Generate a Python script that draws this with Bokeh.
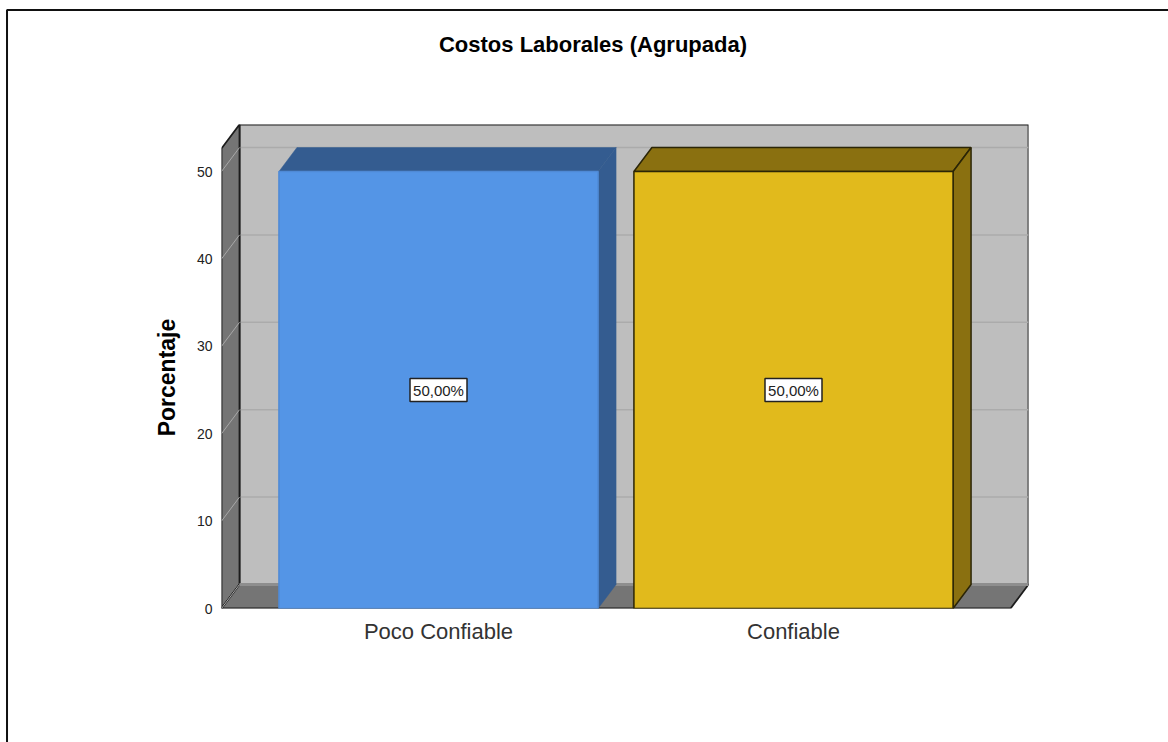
from math import pi
from bokeh.plotting import figure
from bokeh.models import FixedTicker, ColumnDataSource
from bokeh.core.properties import value
from bokeh.embed import file_html
from bokeh.resources import INLINE

title = "Costos Laborales (Agrupada)"
y_label = "Porcentaje"
categories = ["Poco Confiable", "Confiable"]
values = [50.0, 50.0]
labels = ["50,00%", "50,00%"]
y_ticks = [0, 10, 20, 30, 40, 50]
front_colors = ["#5495E6", "#E1BA1C"]
side_colors = ["#345C90", "#8A7010"]
edge_colors = ["#4F8AD6", "#2B2506"]

BAR_W = 0.899
DX = 0.0507
DY = 2.746
X0 = -0.6113
X1 = 1.6113
YMAX = 52.634
FONT = "Liberation Sans"

p = figure(width=1168, height=742, output_backend="svg", toolbar_location=None,
           x_range=(X0, X1 + DX), y_range=(0, YMAX + DY),
           min_border_left=221, min_border_right=1168 - 1028, min_border_top=124, min_border_bottom=742 - 608,
           background_fill_color=None, border_fill_color="white", outline_line_color=None,
           title=None, margin=(0, 0, 0, 0))
p.grid.visible = False


def data_x(px):
    return (px - 438) / 355


def data_y(px):
    return (608 - px) / 8.74


# Axes
p.yaxis.ticker = FixedTicker(ticks=y_ticks)
p.yaxis.axis_line_color = None
p.yaxis.major_tick_line_color = None
p.yaxis.minor_tick_line_color = None
p.yaxis.major_label_text_font = FONT
p.yaxis.major_label_text_font_size = "14px"
p.yaxis.major_label_text_color = "#222222"
p.yaxis.major_label_standoff = 3

p.xaxis.ticker = FixedTicker(ticks=list(range(len(categories))))
p.xaxis.major_label_overrides = {i: c for i, c in enumerate(categories)}
p.xaxis.axis_line_color = None
p.xaxis.major_tick_line_color = None
p.xaxis.minor_tick_line_color = None
p.xaxis.major_label_text_font = FONT
p.xaxis.major_label_text_font_size = "22px"
p.xaxis.major_label_text_color = "#333333"
p.xaxis.major_label_standoff = 4

WALL = "#1C1C1C"
# back wall
p.patch([X0 + DX, X1 + DX, X1 + DX, X0 + DX], [DY, DY, YMAX + DY, YMAX + DY],
        fill_color="#BEBEBE", line_color=WALL, line_width=1.8)
# back gridlines
for t in y_ticks[1:]:
    p.line([X0 + DX, X1 + DX], [t + DY, t + DY], line_color="#ABABAB", line_width=1.5)
# left wall
p.patch([X0, X0 + DX, X0 + DX, X0], [0, DY, YMAX + DY, YMAX],
        fill_color="#757575", line_color=WALL, line_width=1.8)
# floor
p.patch([X0, X1, X1 + DX, X0 + DX], [0, 0, DY, DY],
        fill_color="#757575", line_color=WALL, line_width=1.8)
p.line([X0 + DX, X1 + DX], [DY, DY], line_color="#8E8E8E", line_width=3)
# side gridlines
for t in y_ticks:
    p.line([X0, X0 + DX], [t, t + DY], line_color="#A8A8A8", line_width=1)

# bars
for i, (v, fc, sc, ec) in enumerate(zip(values, front_colors, side_colors, edge_colors)):
    l, r = i - BAR_W / 2, i + BAR_W / 2
    p.patch([l, r, r + DX, l + DX], [v, v, v + DY, v + DY], fill_color=sc, line_color=ec if i else sc, line_width=1.5 if i else 0.5)
    p.patch([r, r + DX, r + DX, r], [0, DY, v + DY, v], fill_color=sc, line_color=ec if i else sc, line_width=1.5 if i else 0.5)
    p.quad(left=[l], right=[r], bottom=[0], top=[v], fill_color=fc, line_color=ec, line_width=1.5)

# value labels
src = ColumnDataSource(dict(x=list(range(len(values))), y=[v / 2 for v in values], t=labels))
p.rect("x", "y", width=57, height=23, width_units="screen", height_units="screen", source=src,
       fill_color="white", line_color="#222222", line_width=1.5)
p.text("x", "y", text="t", source=src, text_align="center", text_baseline="middle",
       text_font=value(FONT), text_font_size="15px", text_color="#222222")

# title and y label
p.text([data_x(592.5)], [data_y(44)], text=[title], text_align="center", text_baseline="middle",
       text_font=value(FONT), text_font_size="22px", text_font_style="bold", text_color="black").level = "overlay"
p.text([data_x(166)], [data_y(377)], text=[y_label], angle=pi / 2, text_align="center", text_baseline="middle",
       text_font=value(FONT), text_font_size="23px", text_font_style="bold", text_color="black").level = "overlay"

# page frame: top and left edges only
p.line([data_x(1168), data_x(6.5), data_x(6.5)], [data_y(9.5), data_y(9.5), data_y(742)],
       line_color="#111111", line_width=2).level = "overlay"

open("out.html", "w").write(file_html(p, INLINE))
